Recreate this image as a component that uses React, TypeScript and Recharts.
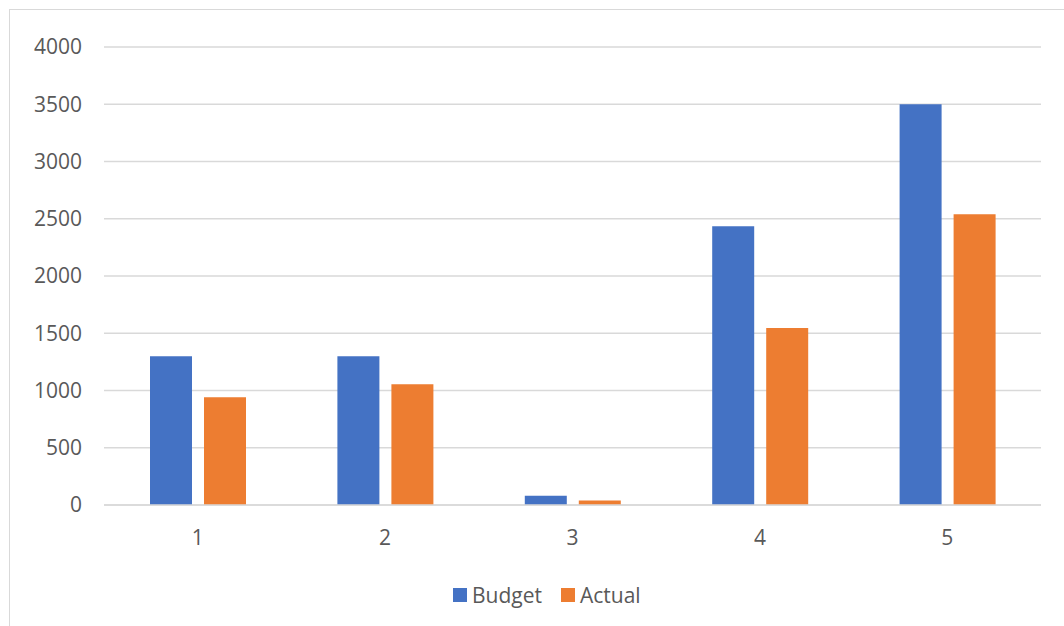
import { BarChart, Bar, XAxis, YAxis, CartesianGrid } from 'recharts'

const periods = ['1', '2', '3', '4', '5']
const budget = [1300, 1300, 80, 2435, 3500]
const actual = [940, 1055, 40, 1545, 2540]
const yTicks = [0, 500, 1000, 1500, 2000, 2500, 3000, 3500, 4000]

const series = [
  { key: 'Budget', color: '#4472C4' },
  { key: 'Actual', color: '#ED7D31' },
]

const data = periods.map((p, i) => ({ period: p, Budget: budget[i], Actual: actual[i] }))

const textColor = '#595959'
const font = '"Open Sans", sans-serif'

function LegendBox() {
  return (
    <div
      style={{
        position: 'absolute',
        left: 443,
        top: 570,
        height: 30,
        display: 'flex',
        alignItems: 'center',
        fontFamily: font,
        fontSize: 21,
        color: textColor,
      }}
    >
      {series.map((s, i) => (
        <div key={s.key} style={{ display: 'flex', alignItems: 'center', marginRight: i === 0 ? 19 : 0 }}>
          <span style={{ width: 14, height: 14, background: s.color, display: 'inline-block', marginRight: 5 }} />
          <span>{s.key}</span>
        </div>
      ))}
    </div>
  )
}

export default function App() {
  return (
    <div
      style={{
        position: 'absolute',
        left: 9,
        top: 9,
        width: 1100,
        height: 700,
        border: '1px solid #d9d9d9',
        background: '#fff',
      }}
    >
      <BarChart
        width={1054}
        height={616}
        data={data}
        margin={{ top: 37, right: 23, bottom: 91, left: 0 }}
        barSize={42}
        barGap={12}
      >
        <CartesianGrid vertical={false} stroke="#d9d9d9" strokeWidth={1.5} />
        <XAxis
          dataKey="period"
          height={30}
          axisLine={{ stroke: '#d9d9d9', strokeWidth: 1.5 }}
          tickLine={false}
          tickSize={0}
          tickMargin={25}
          tick={{ fill: textColor, fontSize: 21, fontFamily: font }}
        />
        <YAxis
          width={94}
          domain={[0, 4000]}
          ticks={yTicks}
          axisLine={false}
          tickLine={false}
          tickSize={0}
          tickMargin={22}
          tick={{ fill: textColor, fontSize: 21, fontFamily: font }}
        />
        {series.map((s) => (
          <Bar key={s.key} dataKey={s.key} fill={s.color} isAnimationActive={false} />
        ))}
      </BarChart>
      <LegendBox />
    </div>
  )
}
